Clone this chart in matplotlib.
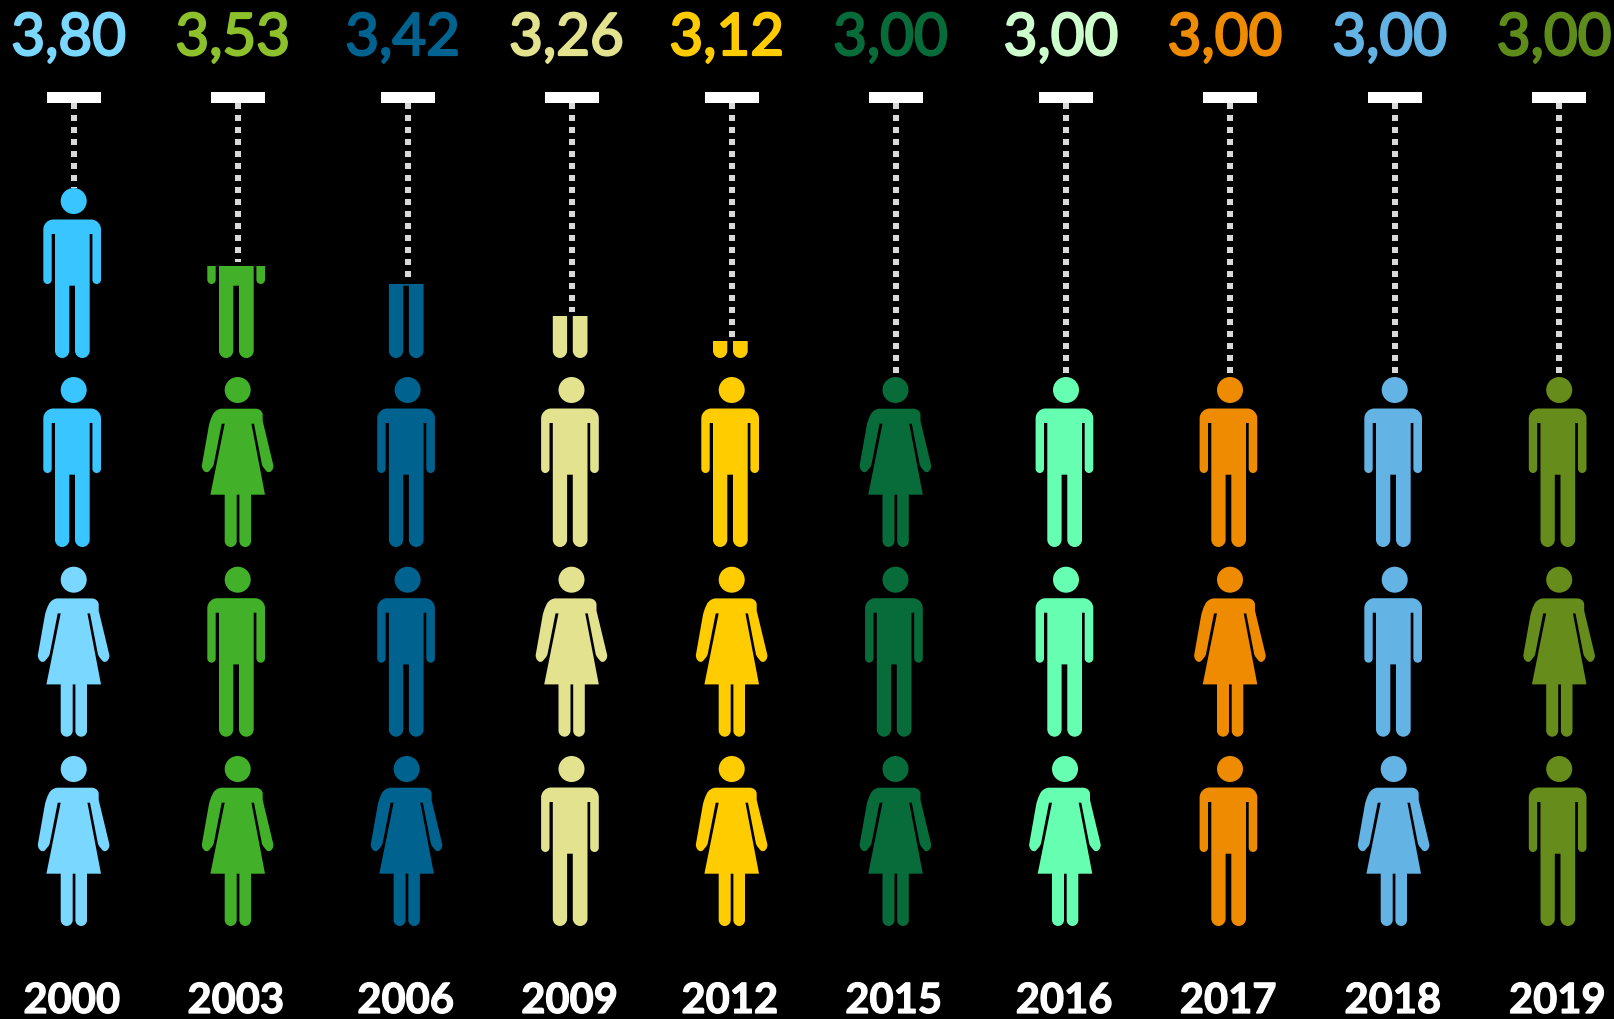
import matplotlib
matplotlib.use("Agg")
import matplotlib.pyplot as plt
import matplotlib.patheffects as pe
from matplotlib.path import Path
from matplotlib.patches import PathPatch, Rectangle
from matplotlib.transforms import Affine2D

years = ["2000", "2003", "2006", "2009", "2012", "2015", "2016", "2017", "2018", "2019"]
values = ["3,80", "3,53", "3,42", "3,26", "3,12", "3,00", "3,00", "3,00", "3,00", "3,00"]
# visible share of the cropped top pictogram
top_share = [1.0, 0.54, 0.435, 0.25, 0.10, 0, 0, 0, 0, 0]
# pictogram type per row, top row first (M man, F woman)
row_top = ["M", "M", "M", "M", "M", "M", "M", "M", "M", "M"]
row_2 = ["M", "F", "M", "M", "M", "F", "M", "M", "M", "M"]
row_3 = ["F", "M", "M", "F", "F", "M", "M", "F", "M", "F"]
row_4 = ["F", "F", "F", "M", "F", "F", "F", "M", "F", "M"]

label_colors = ["#7AD7FF", "#8CC12B", "#00628F", "#E3E38F", "#FFCC00",
                "#076B3A", "#CCFFCC", "#EE8B00", "#63B3E5", "#5E8C1A"]
upper_colors = ["#39C5FF", "#43B02A", "#00628F", "#E3E38F", "#FFCC00",
                "#076B3A", "#66FFB2", "#EE8B00", "#63B3E5", "#668C1C"]
lower_colors = ["#7AD7FF", "#43B02A", "#00628F", "#E3E38F", "#FFCC00",
                "#076B3A", "#66FFB2", "#EE8B00", "#63B3E5", "#668C1C"]

col_x = [73.7, 237.7, 407.6, 571.5, 731.7, 895.5, 1066, 1230, 1394.7, 1559.2]
row_y = [201, 390, 579.7, 769]
row4_dx = [0, 0, -1, 0, 0, 0, -1, 0, -1, 0]
FIG_TOP, FIG_H = -13, 170
K = 0.55


def rounded(verts):
    """closed path from (x, y, radius) corners"""
    out, codes = [], []
    n = len(verts)
    for i, (x, y, r) in enumerate(verts):
        if r == 0:
            out.append((x, y))
            codes.append(Path.LINETO)
            continue
        px, py, _ = verts[i - 1]
        nx, ny, _ = verts[(i + 1) % n]
        d1 = ((px - x) ** 2 + (py - y) ** 2) ** .5
        d2 = ((nx - x) ** 2 + (ny - y) ** 2) ** .5
        r1, r2 = min(r, d1 / 2), min(r, d2 / 2)
        a = (x + (px - x) * r1 / d1, y + (py - y) * r1 / d1)
        b = (x + (nx - x) * r2 / d2, y + (ny - y) * r2 / d2)
        out += [a, (a[0] + (x - a[0]) * K, a[1] + (y - a[1]) * K),
                (b[0] + (x - b[0]) * K, b[1] + (y - b[1]) * K), b]
        codes += [Path.LINETO, Path.CURVE4, Path.CURVE4, Path.CURVE4]
    codes[0] = Path.MOVETO
    out.append(out[0])
    codes.append(Path.CLOSEPOLY)
    return Path(out, codes)


man = rounded([(-30.4, 18.5, 10), (27.3, 18.5, 10), (27.3, 83, 4.3), (18.7, 83, 4.3),
               (18.7, 33, 0), (16, 33, 0), (16, 157, 7.3), (1.3, 157, 7.3),
               (1.3, 84.7, 0), (-4.4, 84.7, 0), (-4.4, 157, 7.3), (-18.7, 157, 7.3),
               (-18.7, 33, 0), (-22, 33, 0), (-22, 83, 4.3), (-30.4, 83, 4.3)])
woman = rounded([(-22, 18.7, 6), (-28, 31, 5), (-36.3, 78, 3), (-31, 84, 4), (-24.3, 76, 2),
                 (-16, 33.7, 0), (-13, 33.7, 0), (-27.3, 104.7, 0), (-13, 104.7, 0),
                 (-13, 157, 6), (-1, 157, 6), (-1, 104.7, 0), (1.7, 104.7, 0),
                 (1.7, 157, 5.8), (13.3, 157, 5.8), (13.3, 104.7, 0), (27.3, 104.7, 0),
                 (13.7, 33.7, 0), (16.3, 33.7, 0), (24.5, 76, 2), (31, 84, 4), (36.3, 78, 3),
                 (25, 31, 0), (25, 18.7, 7)])
head = Path.circle((0, 0), 13)
shapes = {"M": Path.make_compound_path(man, head),
          "F": Path.make_compound_path(woman, head)}

fig = plt.figure(figsize=(16.14, 10.19), dpi=100, facecolor="black")
ax = fig.add_axes([0, 0, 1, 1])
ax.set_xlim(0, 1614)
ax.set_ylim(1019, 0)
ax.axis("off")


def person(kind, x, y, color, clip_top=None):
    p = PathPatch(shapes[kind], transform=Affine2D().translate(x, y) + ax.transData,
                  facecolor=color, edgecolor="none", zorder=3)
    ax.add_patch(p)
    if clip_top is not None:
        p.set_clip_path(Rectangle((x - 60, clip_top), 120, 400, transform=ax.transData))


for i, x in enumerate(col_x):
    bottom = row_y[0] + FIG_TOP + FIG_H
    if top_share[i] > 0:
        top = bottom - FIG_H * top_share[i]
        person(row_top[i], x, row_y[0], upper_colors[i], clip_top=top)
        line_end = top if top_share[i] == 1 else top - 4
    else:
        line_end = row_y[1] + FIG_TOP - 4
    person(row_2[i], x, row_y[1], upper_colors[i])
    person(row_3[i], x, row_y[2], lower_colors[i])
    person(row_4[i], x + row4_dx[i], row_y[3], lower_colors[i])

    ax.plot([x, x], [103, line_end], color="#D9D9D9", lw=4.32,
            linestyle=(0, (1, 1)), dash_capstyle="butt", zorder=1)
    ax.add_patch(Rectangle((x - 27, 92), 54, 11, facecolor="white", edgecolor="none", zorder=2))

    t = ax.text(x - 5, 55, values[i], color=label_colors[i], fontsize=42, family="Lato",
                ha="center", va="baseline")
    t.set_path_effects([pe.withStroke(linewidth=1.6, foreground=label_colors[i])])
    t = ax.text(x - 2, 1013, years[i], color="white", fontsize=30, family="Lato",
                ha="center", va="baseline", fontweight="bold")
    t.set_path_effects([pe.withStroke(linewidth=0.9, foreground="white")])

fig.savefig("out.png", dpi=100, facecolor="black")
